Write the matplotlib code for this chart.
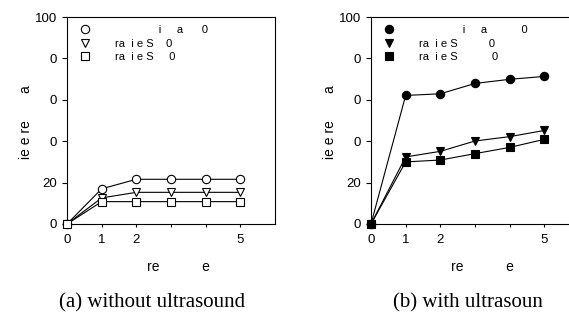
# two-panel line chart, without / with ultrasound

import matplotlib.pyplot as plt

# Data
x = [0, 1, 2, 3, 4, 5]
xtick_labels = ['0', '1', '2', '', '', '5']
yticks = [0, 20, 40, 60, 80, 100]
ytick_labels = ['0', '20', '0', '0', '0', '100']

# (a) without ultrasound
a_circle = [0, 17.0, 21.6, 21.6, 21.6, 21.6]
a_tri = [0, 12.6, 15.3, 15.3, 15.3, 15.3]
a_square = [0, 10.8, 10.8, 10.8, 10.8, 10.8]

# (b) with ultrasound
b_circle = [0, 62.1, 62.9, 67.9, 69.9, 71.3]
b_tri = [0, 32.4, 35.1, 40.1, 42.2, 45.2]
b_square = [0, 30.0, 30.9, 34.0, 37.0, 40.9]

labels_a = [' ' * 14 + 'i' + ' ' * 5 + 'a' + ' ' * 6 + '0',
            'ra  i e S' + ' ' * 4 + '0',
            'ra  i e S' + ' ' * 5 + '0']
labels_b = [' ' * 14 + 'i' + ' ' * 5 + 'a' + ' ' * 11 + '0',
            'ra  i e S' + ' ' * 10 + '0',
            'ra  i e S' + ' ' * 11 + '0']
xlabel = 're' + ' ' * 11 + 'e'
ylabel = 'ie e re' + ' ' * 7 + 'a'
captions = ['(a) without ultrasound', '(b) with ultrasoun']

plt.rcParams['font.family'] = ['Liberation Sans', 'DejaVu Sans']

fig = plt.figure(figsize=(5.69, 3.31), dpi=100)
ax1 = fig.add_axes([67 / 569, 1 - 224 / 331, 208 / 569, 207 / 331])
ax2 = fig.add_axes([371 / 569, 1 - 224 / 331, 208 / 569, 207 / 331])


def draw(ax, series, filled, labels):
    markers = ['o', 'v', 's']
    for ys, m, lab in zip(series, markers, labels):
        ax.plot(x, ys, color='black', lw=0.8, marker=m, markersize=6,
                markerfacecolor='black' if filled else 'white',
                markeredgecolor='black', markeredgewidth=0.8, label=lab,
                clip_on=False, zorder=3)
    ax.set_xlim(0, 6)
    ax.set_ylim(0, 100)
    ax.set_xticks(x)
    ax.set_xticklabels(xtick_labels)
    ax.set_yticks(yticks)
    ax.set_yticklabels(ytick_labels)
    ax.tick_params(axis='y', direction='out', length=3.6, width=0.8,
                   labelsize=9.5, pad=3.5)
    ax.tick_params(axis='x', direction='out', length=2.5, width=0.8,
                   labelsize=9.5, pad=5)
    for s in ax.spines.values():
        s.set_linewidth(0.8)
    ax.set_ylabel(ylabel, fontsize=10)
    ax.yaxis.set_label_coords(-0.165, 0.49)
    ax.set_xlabel(xlabel, fontsize=10)
    ax.xaxis.set_label_coords(0.536, -0.175)
    leg = ax.legend(loc='upper left', frameon=False, fontsize=8,
                    handlelength=1.0, handletextpad=2.2, labelspacing=0.3,
                    borderpad=0, borderaxespad=0, bbox_to_anchor=(0.06, 0.96))
    # markers only in the legend, no line through them
    for h in leg.legend_handles:
        h.set_linestyle('none')


draw(ax1, [a_circle, a_tri, a_square], False, labels_a)
draw(ax2, [b_circle, b_tri, b_square], True, labels_b)

fig.text(152 / 569, 1 - 303 / 331, captions[0], ha='center', va='center',
         fontsize=15, family='Liberation Serif')
fig.text(468 / 569, 1 - 303 / 331, captions[1], ha='center', va='center',
         fontsize=15, family='Liberation Serif')

plt.savefig('out.png', dpi=100)
